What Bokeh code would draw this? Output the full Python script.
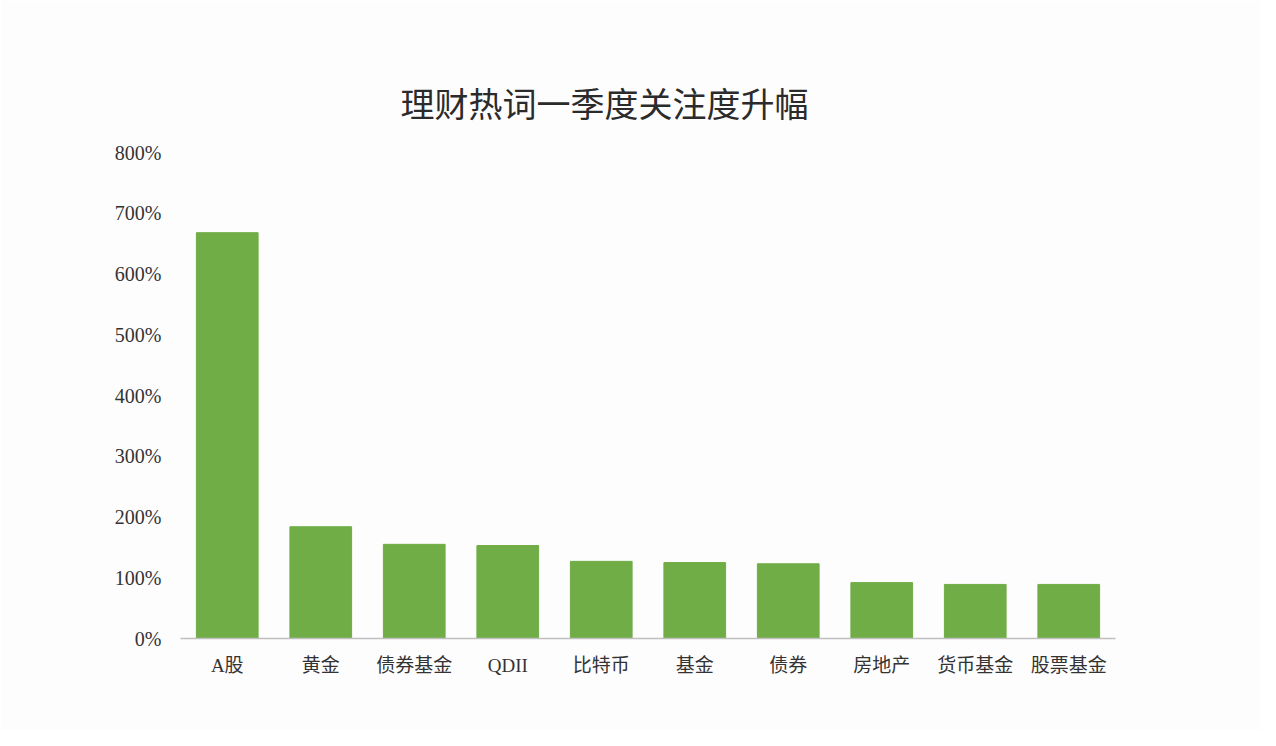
from bokeh.plotting import figure
from bokeh.models import FixedTicker, Range1d, Title, FactorRange
from bokeh.embed import file_html
from bokeh.resources import INLINE

categories = ["A股", "黄金", "债券基金", "QDII", "比特币", "基金", "债券", "房地产", "货币基金", "股票基金"]
values = [668, 184, 155, 153, 127, 125, 123, 92, 89, 89]
y_ticks = [0, 100, 200, 300, 400, 500, 600, 700, 800]
y_tick_labels = {t: f"{t}%" for t in y_ticks}
title_text = "理财热词一季度关注度升幅"

p = figure(
    x_range=FactorRange(*categories, range_padding=0),
    y_range=Range1d(0, 800),
    width=1260, height=730,
    output_backend="svg", toolbar_location=None,
    min_border_left=180, min_border_right=145,
    min_border_top=152, min_border_bottom=92,
    background_fill_color="#fefdfe", border_fill_color="#fefdfe",
    outline_line_color=None,
)

p.vbar(x=categories, top=values, width=0.66, color="#70ad47")

t = Title(text=title_text, align="left", offset=220, standoff=52,
          text_font="Noto Sans CJK SC", text_font_size="34px",
          text_font_style="normal", text_color="#2b2b2b")
p.add_layout(t, "above")

p.xgrid.grid_line_color = None
p.ygrid.grid_line_color = None

p.yaxis.ticker = FixedTicker(ticks=y_ticks)
p.yaxis.major_label_overrides = y_tick_labels
p.yaxis.axis_line_color = None
p.yaxis.major_tick_line_color = None
p.yaxis.minor_tick_line_color = None
p.yaxis.major_label_text_font = "Liberation Serif"
p.yaxis.major_label_text_font_size = "20px"
p.yaxis.major_label_text_color = "#333333"
p.yaxis.major_label_standoff = 13

p.xaxis.axis_line_color = "#bfbfbf"
p.xaxis.axis_line_width = 1.5
p.xaxis.major_tick_line_color = None
p.xaxis.minor_tick_line_color = None
p.xaxis.major_label_text_font = "Liberation Serif, Noto Sans CJK SC"
p.xaxis.major_label_text_font_size = "19px"
p.xaxis.major_label_text_color = "#333333"
p.xaxis.major_label_standoff = 10

open("out.html", "w").write(file_html(p, INLINE))
